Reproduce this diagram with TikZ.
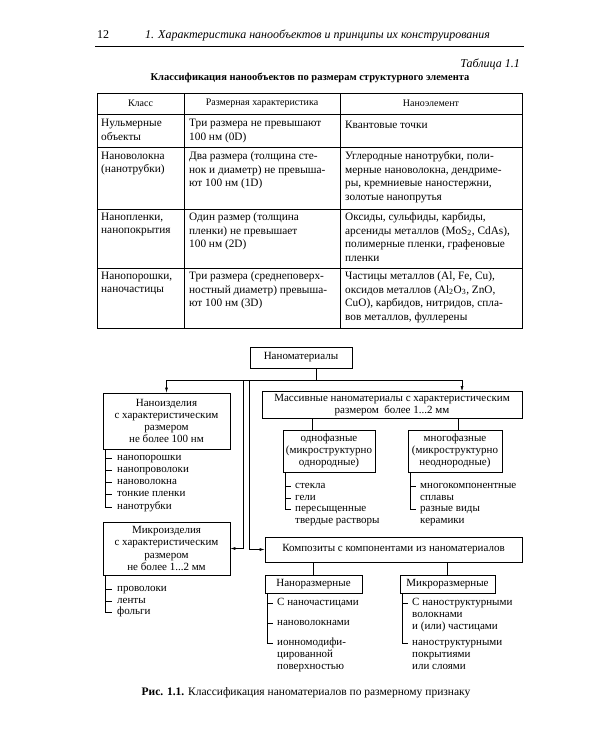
\documentclass[tikz,border=0pt]{standalone}
\usepackage{fontspec}
\setmainfont{Liberation Serif}
\usetikzlibrary{arrows.meta}
\tikzset{
  tline/.style={line width=0.65pt},
  thead/.style={inner sep=0, font=\fontsize{10}{11}\selectfont},
  cell/.style={anchor=north west, align=left, inner sep=0, font=\fontsize{11.3}{13.5}\selectfont, execute at begin node={\rule{0pt}{9.5pt}}},
  dbox/.style={draw, line width=0.65pt, align=center, inner sep=0, font=\fontsize{11}{12.2}\selectfont},
  ditem/.style={anchor=west, inner sep=0, text height=7pt, text depth=2pt, font=\fontsize{11}{12.2}\selectfont},
  conn/.style={line width=0.65pt},
  arr/.style={line width=0.65pt, -{Latex[length=5pt,width=3pt]}},
}
\begin{document}
\begin{tikzpicture}[x=1pt,y=-1pt]
\useasboundingbox (0,0) rectangle (600,750);
\fill[white] (0,0) rectangle (600,750);

% running head
\node[anchor=base west, inner sep=0, font=\fontsize{12}{14}\selectfont] (pnum) at (97,38) {12};
\node[anchor=base west, inner sep=0, font=\fontsize{12}{14}\selectfont\itshape] (rhead) at (145,38) {1. Характеристика нанообъектов и принципы их конструирования};
\draw[line width=0.9pt] (95,46) -- (524,46);

\node[anchor=base east, inner sep=0, font=\fontsize{12}{14}\selectfont\itshape] (tabnum) at (520,67) {Таблица 1.1};
\node[anchor=base, inner sep=0, font=\fontsize{10.5}{12}\selectfont\bfseries] (tabtitle) at (310,80) {Классификация нанообъектов по размерам структурного элемента};

% table grid
\draw[tline] (97,93) rectangle (522,328);
\foreach \yy in {114,147,209,268} \draw[tline] (97,\yy) -- (522,\yy);
\foreach \xx in {184,340} \draw[tline] (\xx,93) -- (\xx,328);

\node[thead] (h1) at (140.5,103.5) {Класс};
\node[thead] (h2) at (262,103.5) {Размерная характеристика};
\node[thead] (h3) at (431,103.5) {Наноэлемент};

\node[cell] (r1a) at (101,119) {Нульмерные\\объекты};
\node[cell] (r1b) at (189,119) {Три размера не превышают\\100 нм (0D)};
\node[cell] (r1c) at (345,119) {Квантовые точки};

\node[cell] (r2a) at (101,151.5) {Нановолокна\\(нанотрубки)};
\node[cell] (r2b) at (189,151.5) {Два размера (толщина сте-\\нок и диаметр) не превыша-\\ют 100 нм (1D)};
\node[cell] (r2c) at (345,151.5) {Углеродные нанотрубки, поли-\\мерные нановолокна, дендриме-\\ры, кремниевые наностержни,\\золотые нанопрутья};

\node[cell] (r3a) at (101,212.5) {Нанопленки,\\нанопокрытия};
\node[cell] (r3b) at (189,212.5) {Один размер (толщина\\пленки) не превышает\\100 нм (2D)};
\node[cell] (r3c) at (345,212.5) {Оксиды, сульфиды, карбиды,\\арсениды металлов (MoS\textsubscript{2}, CdAs),\\полимерные пленки, графеновые\\пленки};

\node[cell] (r4a) at (101,271.5) {Нанопорошки,\\наночастицы};
\node[cell] (r4b) at (189,271.5) {Три размера (среднеповерх-\\ностный диаметр) превыша-\\ют 100 нм (3D)};
\node[cell] (r4c) at (345,271.5) {Частицы металлов (Al, Fe, Cu),\\оксидов металлов (Al\textsubscript{2}O\textsubscript{3}, ZnO,\\CuO), карбидов, нитридов, спла-\\вов металлов, фуллерены};

% diagram boxes
\node[dbox, minimum width=102, minimum height=21] (nanomat) at (301,357.5) {Наноматериалы};
\node[dbox, minimum width=127, minimum height=56] (nanoizd) at (166.5,421) {Наноизделия\\с характеристическим\\размером\\не более 100 нм};
\node[dbox, minimum width=127, minimum height=53] (mikroizd) at (166.5,548.5) {Микроизделия\\с характеристическим\\размером\\не более 1...2 мм};
\node[dbox, minimum width=260, minimum height=27] (massiv) at (392,405) {Массивные наноматериалы с характеристическим\\размером\ \ более 1...2 мм};
\node[dbox, minimum width=92, minimum height=42] (odno) at (329,451) {однофазные\\(микроструктурно\\однородные)};
\node[dbox, minimum width=94, minimum height=42] (mnogo) at (455,451) {многофазные\\(микроструктурно\\неоднородные)};
\node[dbox, minimum width=257, minimum height=25] (kompoz) at (393.5,549.5) {Композиты с компонентами из наноматериалов};
\node[dbox, minimum width=97, minimum height=18] (nanoraz) at (313.5,584) {Наноразмерные};
\node[dbox, minimum width=95, minimum height=18] (mikroraz) at (447.5,584) {Микроразмерные};

% connectors
\coordinate (j) at (316,380);
\coordinate (jl) at (166.5,380);
\coordinate (jr) at (462,380);
\coordinate (v1) at (243,380);
\coordinate (v2) at (249,380);
\draw[conn] (nanomat.south -| j) -- (j);
\draw[conn] (jl) -- (jr);
\draw[arr] (jl) -- (nanoizd.north);
\draw[arr] (jr) -- (massiv.north -| jr);
\draw[arr] (v1) |- (mikroizd.east);
\draw[arr] (v2) |- (kompoz.west);
\coordinate (m1) at (312,0);
\coordinate (m2) at (458,0);
\draw[conn] (massiv.south -| m1) -- (odno.north -| m1);
\draw[conn] (massiv.south -| m2) -- (mnogo.north -| m2);
\draw[conn] (kompoz.south -| nanoraz.north) -- (nanoraz.north);
\draw[conn] (kompoz.south -| mikroraz.north) -- (mikroraz.north);

% lists: Наноизделия
\node[ditem] (a1) at (117,458) {нанопорошки};
\node[ditem] (a2) at (117,470) {нанопроволоки};
\node[ditem] (a3) at (117,482) {нановолокна};
\node[ditem] (a4) at (117,494) {тонкие пленки};
\node[ditem] (a5) at (117,507) {нанотрубки};
\coordinate (ab) at (105,0);
\draw[conn] (nanoizd.south -| ab) |- ([xshift=-5pt]a5.west);
\foreach \n in {a1,a2,a3,a4} \draw[conn] (\n.west -| ab) -- ([xshift=-5pt]\n.west);

% lists: Микроизделия
\node[ditem] (b1) at (117,589) {проволоки};
\node[ditem] (b2) at (117,601) {ленты};
\node[ditem] (b3) at (117,612) {фольги};
\draw[conn] (mikroizd.south -| ab) |- ([xshift=-5pt]b3.west);
\foreach \n in {b1,b2} \draw[conn] (\n.west -| ab) -- ([xshift=-5pt]\n.west);

% lists: однофазные
\node[ditem] (c1) at (295,486) {стекла};
\node[ditem] (c2) at (295,498) {гели};
\node[ditem] (c3) at (295,509) {пересыщенные};
\node[ditem] (c4) at (295,521) {твердые растворы};
\coordinate (cb) at (285,0);
\draw[conn] (odno.south -| cb) |- ([xshift=-4pt]c3.west);
\foreach \n in {c1,c2} \draw[conn] (\n.west -| cb) -- ([xshift=-4pt]\n.west);

% lists: многофазные
\node[ditem] (d1) at (420,486) {многокомпонентные};
\node[ditem] (d2) at (420,498) {сплавы};
\node[ditem] (d3) at (420,509) {разные виды};
\node[ditem] (d4) at (420,521) {керамики};
\coordinate (db) at (410,0);
\draw[conn] (mnogo.south -| db) |- ([xshift=-4pt]d3.west);
\draw[conn] (d1.west -| db) -- ([xshift=-4pt]d1.west);

% lists: Наноразмерные
\node[ditem] (e1) at (277,603) {С наночастицами};
\node[ditem] (e2) at (277,623) {нановолокнами};
\node[ditem] (e3) at (277,643) {ионномодифи-};
\node[ditem] (e4) at (277,655) {цированной};
\node[ditem] (e5) at (277,667) {поверхностью};
\coordinate (eb) at (267,0);
\draw[conn] (nanoraz.south -| eb) |- ([xshift=-4pt]e3.west);
\foreach \n in {e1,e2} \draw[conn] (\n.west -| eb) -- ([xshift=-4pt]\n.west);

% lists: Микроразмерные
\node[ditem] (f1) at (412,603) {С наноструктурными};
\node[ditem] (f2) at (412,615) {волокнами};
\node[ditem] (f3) at (412,627) {и (или) частицами};
\node[ditem] (f4) at (412,643) {наноструктурными};
\node[ditem] (f5) at (412,655) {покрытиями};
\node[ditem] (f6) at (412,667) {или слоями};
\coordinate (fb) at (402,0);
\draw[conn] (mikroraz.south -| fb) |- ([xshift=-4pt]f4.west);
\draw[conn] (f1.west -| fb) -- ([xshift=-4pt]f1.west);

% caption
\node[anchor=base, inner sep=0, font=\fontsize{11.5}{13}\selectfont] (caption) at (306,695) {\textbf{Рис. 1.1.} Классификация наноматериалов по размерному признаку};
\end{tikzpicture}
\end{document}
